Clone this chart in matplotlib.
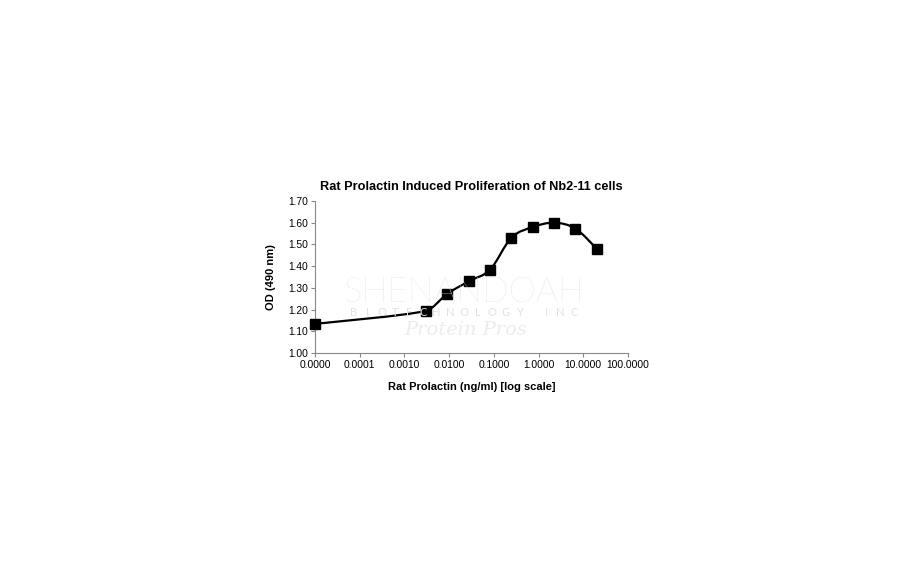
"""Rat prolactin dose response (Nb2-11 proliferation) on a log concentration axis."""

import matplotlib

matplotlib.use("Agg")
import matplotlib.pyplot as plt
import numpy as np
from matplotlib.path import Path
from matplotlib.patches import PathPatch

# Concentration (ng/ml); the zero-dose well is drawn at 1e-5 ("0.0000")
concentration = [0.00001, 0.00305, 0.00914, 0.0274, 0.0823, 0.247, 0.741, 2.22, 6.67, 20.0]
od_490 = [1.134, 1.194, 1.273, 1.330, 1.384, 1.531, 1.580, 1.600, 1.573, 1.480]

x_ticks = [0.00001, 0.0001, 0.001, 0.01, 0.1, 1, 10, 100]
x_tick_labels = ["0.0000", "0.0001", "0.0010", "0.0100", "0.1000", "1.0000", "10.0000", "100.0000"]
y_ticks = [1.00, 1.10, 1.20, 1.30, 1.40, 1.50, 1.60, 1.70]

FONT = ["Liberation Sans", "DejaVu Sans"]
plt.rcParams["font.family"] = FONT


def smooth_path(xs, ys):
    """Excel-style smoothed line as cubic Bezier segments (built in log-x space).

    Handle lengths are capped at a third of the segment so uneven spacing
    does not make the curve loop back.
    """
    lx = np.log10(xs)
    ly = np.asarray(ys, dtype=float)
    n = len(lx)
    verts = [(xs[0], ys[0])]
    codes = [Path.MOVETO]
    for i in range(n - 1):
        seg = lx[i + 1] - lx[i]
        p0 = max(i - 1, 0)
        p3 = min(i + 2, n - 1)
        t1 = np.array([lx[i + 1] - lx[p0], ly[i + 1] - ly[p0]]) / 6
        t2 = np.array([lx[p3] - lx[i], ly[p3] - ly[i]]) / 6
        if t1[0] > seg / 3:
            t1 *= (seg / 3) / t1[0]
        if t2[0] > seg / 3:
            t2 *= (seg / 3) / t2[0]
        c1x, c1y = lx[i] + t1[0], ly[i] + t1[1]
        c2x, c2y = lx[i + 1] - t2[0], ly[i + 1] - t2[1]
        verts += [(10 ** c1x, c1y), (10 ** c2x, c2y), (xs[i + 1], ys[i + 1])]
        codes += [Path.CURVE4] * 3
    return Path(verts, codes)


figure = plt.figure(figsize=(9.12, 5.62), dpi=100)
axis = figure.add_axes([315 / 912, 1 - 353 / 562, 313 / 912, 152 / 562])

# faint company watermark behind the data
wm_color = "#e2e2e2"
figure.text(463 / 912, 1 - 292 / 562, "SHENANDOAH", ha="center", va="center",
            fontsize=25, color=wm_color, family=["Lato", "DejaVu Sans"], fontweight="light", zorder=0)
sub_letters = "BIOTECHNOLOGY INC"
for letter, xpos in zip(sub_letters, np.linspace(354, 574, len(sub_letters))):
    figure.text(xpos / 912, 1 - 313 / 562, letter, ha="center", va="center",
                fontsize=8, color=wm_color, family=["Lato", "DejaVu Sans"], zorder=0)
figure.text(466 / 912, 1 - 330 / 562, "Protein Pros", ha="center", va="center",
            fontsize=14, color="#ececec", family=["DejaVu Serif"], style="italic", zorder=0)
axis.patch.set_alpha(0)

axis.add_patch(PathPatch(smooth_path(concentration, od_490), facecolor="none",
                         edgecolor="black", linewidth=1.6, zorder=3))
axis.plot(concentration, od_490, linestyle="none", marker="s", markersize=7.5,
          color="black", zorder=4, clip_on=False)

axis.set_xscale("log")
axis.set_xlim(0.00001, 100)
axis.set_ylim(1.0, 1.7)
axis.set_xticks(x_ticks)
axis.set_xticklabels(x_tick_labels)
axis.set_yticks(y_ticks)
axis.set_yticklabels([f"{v:.2f}" for v in y_ticks])
axis.xaxis.set_minor_locator(matplotlib.ticker.NullLocator())

for side in ("top", "right"):
    axis.spines[side].set_visible(False)
for side in ("left", "bottom"):
    axis.spines[side].set_color("#888888")
    axis.spines[side].set_linewidth(0.8)
axis.tick_params(direction="out", length=3, width=0.8, color="#888888",
                 labelsize=7.4, labelcolor="black", pad=2)

axis.set_title("Rat Prolactin Induced Proliferation of Nb2-11 cells",
               fontsize=9.2, fontweight="bold", pad=8)
axis.set_xlabel("Rat Prolactin (ng/ml) [log scale]", fontsize=8, fontweight="bold", labelpad=9)
axis.set_ylabel("OD (490 nm)", fontsize=8, fontweight="bold", labelpad=9)

figure.savefig("out.png", dpi=100)
